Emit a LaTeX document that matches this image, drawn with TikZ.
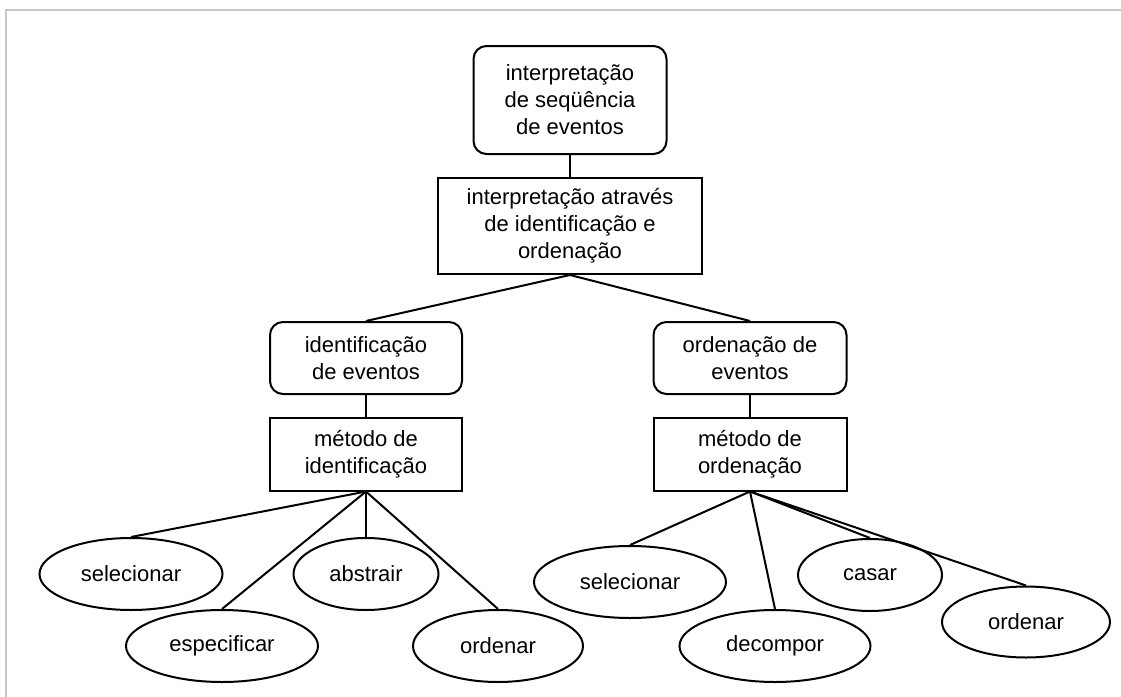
\documentclass[tikz,border=0pt]{standalone}
\usepackage{fontspec}
\setmainfont{Liberation Sans}
\usetikzlibrary{shapes.geometric}

\tikzset{
  rbox/.style={draw, rounded corners=6.5pt, align=center, inner sep=0pt},
  rect/.style={draw, align=center, inner sep=0pt},
  oval/.style={draw, ellipse, inner sep=0pt, minimum height=36pt},
}

\begin{document}
\begin{tikzpicture}[x=0.5pt, y=-0.5pt, line width=1pt,
    font=\fontsize{11}{13.5}\selectfont]

   \useasboundingbox (0,0) rectangle (1121,697);

   % frame
   \draw[black!22, line width=1pt] (6,697) -- (6,10) -- (1121,10);

   \node[rbox, minimum width=96.5pt, minimum height=54pt] (seq) at (570,100)
      {interpretação\\de seqüência\\de eventos};
   \node[rect, minimum width=132pt, minimum height=48pt] (interp) at (570,226)
      {interpretação através\\de identificação e\\ordenação};

   \node[rbox, minimum width=96pt, minimum height=36pt] (ident) at (366,358)
      {identificação\\de eventos};
   \node[rbox, minimum width=96.5pt, minimum height=36pt] (orden) at (750,358)
      {ordenação de\\eventos};

   \node[rect, minimum width=96pt, minimum height=36.5pt] (metid) at (366,454)
      {método de\\identificação};
   \node[rect, minimum width=96.5pt, minimum height=36.5pt] (metord) at (750,454)
      {método de\\ordenação};

   % leaves, left
   \node[oval, minimum width=91.5pt] (selA) at (131,574) {selecionar};
   \node[oval, minimum width=96pt] (espA) at (222,646) {especificar};
   \node[oval, minimum width=72.5pt] (absA) at (366,574) {abstrair};
   \node[oval, minimum width=85pt] (ordA) at (498,646) {ordenar};

   % leaves, right
   \node[oval, minimum width=96pt] (selB) at (630,582) {selecionar};
   \node[oval, minimum width=95.5pt] (decB) at (775,646) {decompor};
   \node[oval, minimum width=72pt] (casB) at (870,575) {casar};
   \node[oval, minimum width=84pt, minimum height=35.5pt] (ordB) at (1026,622) {ordenar};

   \draw (seq) -- (interp);
   \draw (interp.south) -- (ident.north);
   \draw (interp.south) -- (orden.north);
   \draw (ident) -- (metid);
   \draw (orden) -- (metord);

   \foreach \leaf in {selA, espA, absA, ordA}
      \draw (metid.south) -- (\leaf.north);
   \foreach \leaf in {selB, decB, casB, ordB}
      \draw (metord.south) -- (\leaf.north);

\end{tikzpicture}
\end{document}
